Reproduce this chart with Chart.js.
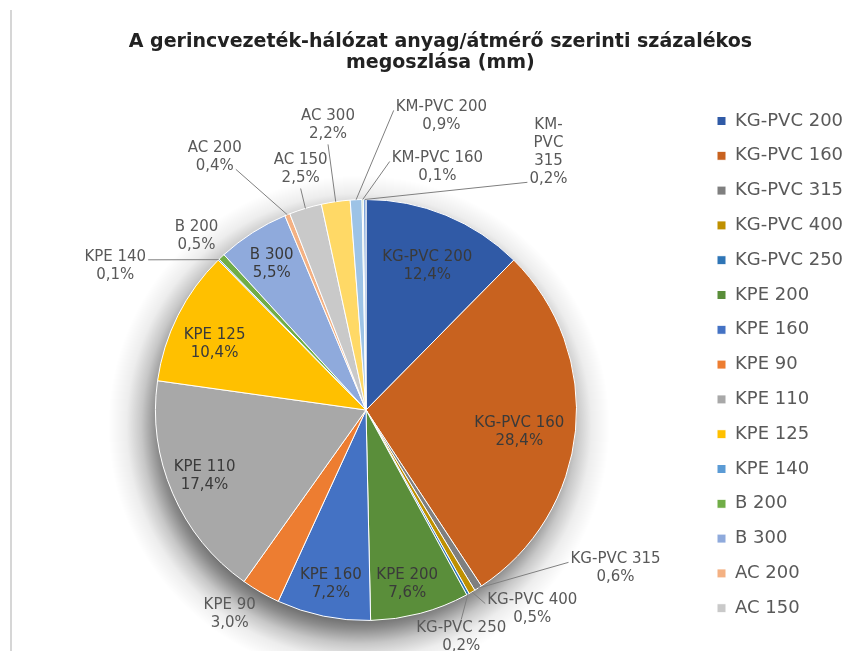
<!DOCTYPE html>
<html>
<head>
<meta charset="utf-8">
<script src="https://cdn.jsdelivr.net/npm/chart.js@4.4.1/dist/chart.umd.min.js"></script>
<style>
  html, body { margin: 0; padding: 0; background: #ffffff; }
  #wrap { position: relative; width: 849px; height: 651px; overflow: hidden; }
  #edge { position: absolute; left: 10px; top: 10px; width: 2px; height: 641px; background: #d6d6d6; }
  canvas { position: absolute; left: 0; top: 0; }
</style>
</head>
<body>
<div id="wrap">
  <div id="edge"></div>
  <canvas id="c" width="849" height="651"></canvas>
</div>
<script>
// ---- data ----
const categories = ['KG-PVC 200','KG-PVC 160','KG-PVC 315','KG-PVC 400','KG-PVC 250','KPE 200','KPE 160','KPE 90','KPE 110','KPE 125','KPE 140','B 200','B 300','AC 200','AC 150','AC 300','KM-PVC 200','KM-PVC 160','KM-PVC 315'];
const shares = [12.4, 28.4, 0.6, 0.5, 0.2, 7.6, 7.2, 3.0, 17.4, 10.4, 0.1, 0.5, 5.5, 0.4, 2.5, 2.2, 0.9, 0.1, 0.2];
const sliceColors = ['#305AA6','#C8621F','#7F7F7F','#BF9000','#2E75B6','#5A8E3A','#4472C4','#ED7D31','#A8A8A8','#FFC000','#5B9BD5','#70AD47','#8FAADC','#F4B183','#C9C9C9','#FFD966','#9DC3E6','#A9D18E','#7FA5DA'];
const titleLines = ['A gerincvezeték-hálózat anyag/átmérő szerinti százalékos', 'megoszlása (mm)'];
const legendShown = 15;

// ---- label layout (polar position relative to pie centre: radius factor, angle in degrees, leader attach) ----
const labelLayout = [
  [0.745, -67.0, null], [0.736, 8.2, null], [1.404, 32.4, 'L0'], [1.234, 50.2, 'L0'], [1.172, 67.3, 'T'],
  [0.851, 76.7, null], [0.845, 101.4, null], [1.167, 123.7, null], [0.829, 157.7, null], [0.785, -156.4, null],
  [1.374, -150.1, 'R0'], [1.155, -134.2, null], [0.827, -122.8, null], [1.399, -120.9, 'Rn'], [1.184, -105.2, 'B'],
  [1.364, -97.6, 'B'], [1.44, -75.6, 'L0'], [1.201, -73.6, 'L0'], [1.5, -54.7, 'Ln', true]
];

const fmtPct = v => v.toFixed(1).replace('.', ',') + '%';

const pieShadow = {
  id: 'pieShadow',
  beforeDatasetsDraw(chart) {
    const arc = chart.getDatasetMeta(0).data[0];
    if (!arc) return;
    const ctx = chart.ctx;
    const r = arc.outerRadius;
    const sx = arc.x - 7, sy = arc.y + 16;
    const blur = 40;
    const g = ctx.createRadialGradient(sx, sy, r - 20, sx, sy, r + blur);
    g.addColorStop(0, 'rgba(0,0,0,0.6)');
    g.addColorStop(0.2, 'rgba(0,0,0,0.45)');
    g.addColorStop(0.45, 'rgba(0,0,0,0.22)');
    g.addColorStop(0.7, 'rgba(0,0,0,0.07)');
    g.addColorStop(1, 'rgba(0,0,0,0)');
    ctx.save();
    ctx.beginPath();
    ctx.arc(sx, sy, r + blur, 0, Math.PI * 2);
    ctx.fillStyle = g;
    ctx.fill();
    ctx.restore();
  }
};

const sliceLabels = {
  id: 'sliceLabels',
  afterDatasetsDraw(chart) {
    const meta = chart.getDatasetMeta(0);
    const ctx = chart.ctx;
    const lh = 18;
    ctx.save();
    ctx.font = '15px "DejaVu Sans"';
    ctx.textAlign = 'center';
    ctx.textBaseline = 'middle';
    meta.data.forEach((arc, i) => {
      const p = arc.getProps(['x', 'y', 'outerRadius', 'startAngle', 'endAngle'], true);
      const lay = labelLayout[i];
      const a = lay[1] * Math.PI / 180;
      const cx = p.x + Math.cos(a) * lay[0] * p.outerRadius;
      const cy = p.y + Math.sin(a) * lay[0] * p.outerRadius;
      const name = chart.data.labels[i];
      const nameLines = lay[3] ? name.replace('-', '- ').split(' ').filter(s => s) : [name];
      const lines = nameLines.concat([fmtPct(chart.data.datasets[0].data[i])]);
      const widths = lines.map(l => ctx.measureText(l).width);
      const top = cy - lines.length * lh / 2;
      if (lay[2]) {
        const mid = (p.startAngle + p.endAngle) / 2;
        const ex = p.x + Math.cos(mid) * p.outerRadius;
        const ey = p.y + Math.sin(mid) * p.outerRadius;
        const n = lines.length - 1;
        let sx, sy;
        switch (lay[2]) {
          case 'L0': sx = cx - widths[0] / 2 - 2; sy = top + lh * 0.5 + 3; break;
          case 'Ln': sx = cx - widths[n] / 2 - 2; sy = top + lh * (n + 0.5) + 3; break;
          case 'R0': sx = cx + widths[0] / 2 + 2; sy = top + lh * 0.5 + 3; break;
          case 'Rn': sx = cx + widths[n] / 2 + 2; sy = top + lh * (n + 0.5) + 3; break;
          case 'T': sx = cx; sy = top; break;
          default: sx = cx; sy = top + lh * lines.length + 1;
        }
        ctx.beginPath();
        ctx.moveTo(sx, sy);
        ctx.lineTo(ex, ey);
        ctx.strokeStyle = '#7f7f7f';
        ctx.lineWidth = 1;
        ctx.stroke();
      }
      ctx.fillStyle = lay[0] < 1 ? '#3a3a3a' : '#595959';
      lines.forEach((l, k) => ctx.fillText(l, cx, top + lh * (k + 0.5)));
    });
    ctx.restore();
  }
};

new Chart(document.getElementById('c'), {
  type: 'pie',
  data: {
    labels: categories,
    datasets: [{
      data: shares,
      backgroundColor: sliceColors,
      borderColor: '#ffffff',
      borderWidth: 1,
      hoverOffset: 0
    }]
  },
  options: {
    responsive: false,
    animation: false,
    devicePixelRatio: 1,
    radius: 210.5,
    layout: { padding: { left: 31.8, right: 0, top: 0, bottom: 0 } },
    events: [],
    plugins: {
      tooltip: { enabled: false },
      title: {
        display: true,
        text: titleLines,
        color: '#222222',
        font: { family: 'DejaVu Sans', weight: 'bold', size: 19, lineHeight: '21px' },
        padding: { top: 32, bottom: 95 }
      },
      legend: {
        display: true,
        position: 'right',
        align: 'center',
        maxWidth: 148.8,
        title: { display: true, text: '', padding: 0, font: { size: 1, lineHeight: '78.2px' } },
        labels: {
          boxWidth: 9,
          boxHeight: 9,
          padding: 16.8,
          color: '#595959',
          font: { family: 'DejaVu Sans', size: 18 },
          filter: (item) => item.index < legendShown
        }
      }
    }
  },
  plugins: [pieShadow, sliceLabels]
});
</script>
</body>
</html>
